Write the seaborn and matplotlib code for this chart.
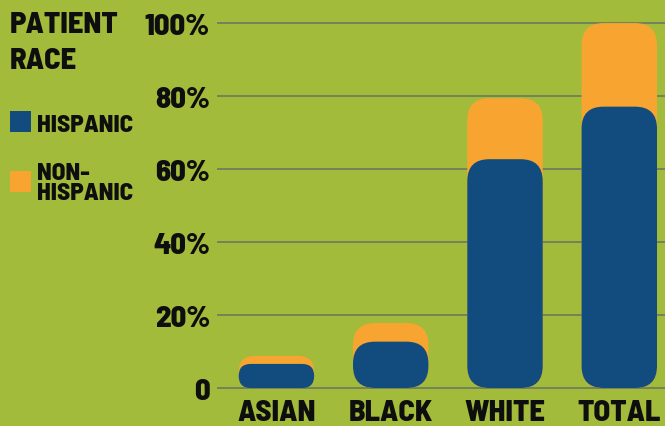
import matplotlib
matplotlib.use("Agg")
import pandas as pd
import matplotlib.pyplot as plt
import seaborn as sns
from matplotlib.patches import FancyBboxPatch, Rectangle

# Data (percent of patients)
races = ["ASIAN", "BLACK", "WHITE", "TOTAL"]
hispanic = [6.6, 12.7, 62.7, 77.1]
non_hispanic = [2.2, 5.1, 16.7, 22.9]
y_ticks = [0, 20, 40, 60, 80, 100]
y_tick_labels = ["0", "20%", "40%", "60%", "80%", "100%"]

BG = "#A2BB3B"
BLUE = "#124B7D"
ORANGE = "#F7A530"
GRID = "#717F5C"
INK = "#0E0E0E"

sns.set_style("white")
plt.rcParams["font.family"] = ["Barlow Semi Condensed", "Barlow Condensed", "DejaVu Sans"]
plt.rcParams["font.weight"] = "bold"

# orange bar = whole stack, blue bar drawn over it
totals = [h + n for h, n in zip(hispanic, non_hispanic)]
df = pd.DataFrame({
    "race": races * 2,
    "group": ["NON-HISPANIC"] * len(races) + ["HISPANIC"] * len(races),
    "value": totals + hispanic,
})

W, H = 665, 427
fig = plt.figure(figsize=(W / 100, H / 100), dpi=100, facecolor=BG)
ax_left = 217 / W
ax_bottom = (H - 392.65) / H
ax = fig.add_axes([ax_left, ax_bottom, 1 - ax_left, 1 - ax_bottom])
ax.set_facecolor(BG)

sns.barplot(
    data=df, x="race", y="value", hue="group",
    hue_order=["NON-HISPANIC", "HISPANIC"],
    palette={"NON-HISPANIC": ORANGE, "HISPANIC": BLUE},
    dodge=False, width=0.66, saturation=1, legend=False, ax=ax,
)

ax.set_xlim(-0.52, 3.40)
ax.set_ylim(-1, 106.6)

# swap the plain rectangles for rounded ones
bb = ax.get_window_extent()
px_x = bb.width / (3.40 + 0.52)
px_y = bb.height / 107.6
for i, p in enumerate(list(ax.patches)):
    x, y, w, h = p.get_x(), p.get_y(), p.get_width(), p.get_height()
    fc = p.get_facecolor()
    p.remove()
    r_px = min(22, h * px_y / 2, w * px_x / 2)
    box = FancyBboxPatch(
        (x, y), w, h,
        boxstyle=f"round,pad=0,rounding_size={r_px / px_x}",
        mutation_aspect=px_x / px_y,
        fc=fc, ec="none", zorder=3 + i / 100,
    )
    ax.add_patch(box)

ax.set_yticks(y_ticks)
ax.set_yticklabels(y_tick_labels)
ax.yaxis.grid(True, color=GRID, lw=1.3)
ax.xaxis.grid(False)
ax.set_axisbelow(True)
ax.tick_params(axis="y", length=0, pad=5, labelsize=22, labelcolor=INK)
ax.tick_params(axis="x", length=0, pad=5, labelsize=22, labelcolor=INK)
for lab in ax.get_xticklabels() + ax.get_yticklabels():
    lab.set_fontweight("heavy")
ax.set_xlabel("")
ax.set_ylabel("")
for s in ax.spines.values():
    s.set_visible(False)

# title
fig.text(10 / W, 1 - 33 / H, "PATIENT", fontsize=22, fontweight="heavy", color=INK, va="baseline")
fig.text(10 / W, 1 - 69 / H, "RACE", fontsize=22, fontweight="heavy", color=INK, va="baseline")

# legend
fig.patches.append(Rectangle((10 / W, 1 - 133 / H), 21 / W, 21 / H,
                             transform=fig.transFigure, fc=BLUE, ec="none"))
fig.patches.append(Rectangle((10 / W, 1 - 193 / H), 21 / W, 21 / H,
                             transform=fig.transFigure, fc=ORANGE, ec="none"))
fig.text(37 / W, 1 - 132 / H, "HISPANIC", fontsize=18, fontweight="heavy", color=INK, va="baseline")
fig.text(37 / W, 1 - 180 / H, "NON-", fontsize=18, fontweight="heavy", color=INK, va="baseline")
fig.text(37 / W, 1 - 200 / H, "HISPANIC", fontsize=18, fontweight="heavy", color=INK, va="baseline")

fig.savefig("out.png", dpi=100, facecolor=BG)
